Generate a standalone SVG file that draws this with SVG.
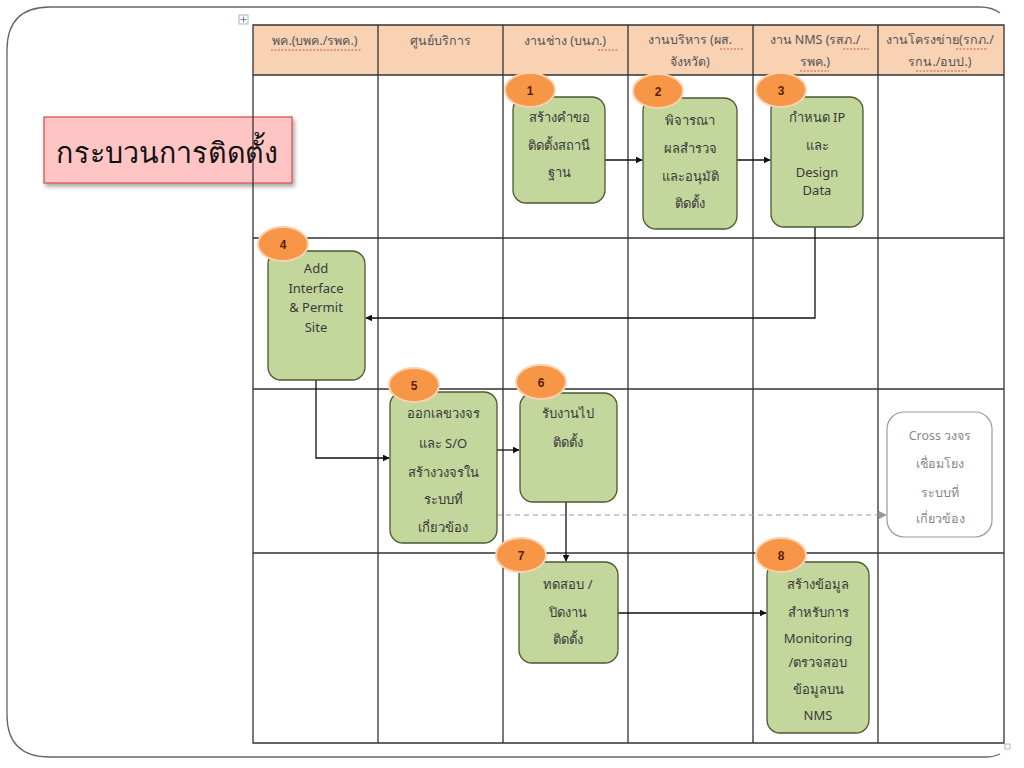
<svg xmlns="http://www.w3.org/2000/svg" width="1024" height="768" viewBox="0 0 1024 768">
<defs>
<style>
.frame{fill:none;stroke:#666;stroke-width:1.3}
.hdr{fill:#F9D2B3}
.grid{stroke:#333;stroke-width:1.3;fill:none}
.ht{font-family:"Noto Sans","Liberation Sans",sans-serif;font-size:12.5px;fill:#555;text-anchor:middle}
.sq{fill:none;stroke:#C0392B;stroke-width:0.8;stroke-dasharray:2 1.5}
.node{fill:#C3D69B;stroke:#4A5A30;stroke-width:1.3}
.nt{font-family:"Noto Sans","Liberation Sans",sans-serif;font-size:13px;fill:#3a3a3a;text-anchor:middle}
.badge{fill:#F79646;stroke:#FAD2B0;stroke-width:2}
.bt{font-family:"Liberation Sans",sans-serif;font-size:12px;font-weight:bold;fill:#5A1E0A;text-anchor:middle}
.conn{stroke:#111;stroke-width:1.3;fill:none;marker-end:url(#ah)}
.dash{stroke:#999;stroke-width:1.2;fill:none;stroke-dasharray:5 4;marker-end:url(#ahg)}
.cross{fill:#fff;stroke:#999;stroke-width:1.2}
.ct{font-family:"Noto Sans","Liberation Sans",sans-serif;font-size:12.5px;fill:#888;text-anchor:middle}
</style>
<marker id="ah" viewBox="0 0 10 10" refX="9" refY="5" markerWidth="7" markerHeight="7" orient="auto" markerUnits="userSpaceOnUse"><path d="M0,0 L10,5 L0,10 z" fill="#111"/></marker>
<marker id="ahg" viewBox="0 0 10 10" refX="9" refY="5" markerWidth="8" markerHeight="8" orient="auto" markerUnits="userSpaceOnUse"><path d="M0,0 L10,5 L0,10 z" fill="#999"/></marker>
<filter id="sh" x="-10%" y="-10%" width="125%" height="135%"><feDropShadow dx="2" dy="3" stdDeviation="2" flood-color="#000" flood-opacity="0.35"/></filter>
</defs>
<rect width="1024" height="768" fill="#fff"/>
<path class="frame" d="M1000,13 Q992,7 980,7 L50,7 Q7,7 7,50 L7,715 Q7,757 50,757 L985,757 Q994,757 1000,754"/>

<g id="title">
<rect x="44" y="117" width="248" height="66" fill="#FFC5C5" stroke="#D9534F" stroke-width="1.3" filter="url(#sh)"/>
<text x="56" y="163" font-family="Noto Sans,Liberation Sans,sans-serif" font-size="29" fill="#111" textLength="222" lengthAdjust="spacingAndGlyphs">กระบวนการติดตั้ง</text>
</g>

<g id="table">
<rect x="239" y="15" width="9" height="9" fill="#fff" stroke="#8AA" stroke-width="0.8"/>
<path d="M243.5,16.5 v6 M240.5,19.5 h6" stroke="#56A" stroke-width="0.8"/>
<rect x="253" y="25" width="751" height="50" class="hdr"/>
<path class="grid" d="M253,25 H1004 V743 H253 Z M253,75 H1004 M253,238 H1004 M253,389 H1004 M253,553 H1004 M378,25 V743 M503,25 V743 M628,25 V743 M753,25 V743 M878,25 V743"/>
<rect x="1005" y="744" width="5" height="5" fill="#fff" stroke="#999" stroke-width="0.7"/>
<text class="ht" x="315" y="45">พค.(บพค./รพค.)</text>
<text class="ht" x="440" y="45">ศูนย์บริการ</text>
<text class="ht" x="565" y="45">งานช่าง (บนภ.)</text>
<text class="ht" x="690" y="44">งานบริหาร (ผส.</text>
<text class="ht" x="690" y="66">จังหวัด)</text>
<text class="ht" x="815" y="44">งาน NMS (รสภ./</text>
<text class="ht" x="815" y="66">รพค.)</text>
<text class="ht" x="940" y="44">งานโครงข่าย(รกภ./</text>
<text class="ht" x="940" y="66">รกน./อบป.)</text>
<path class="sq" d="M271,50 H362 M598,50 H618 M720,49 H743 M843,49 H869 M800,71 H829 M956,49 H988 M916,71 H967"/>
</g>

<g id="connectors">
<path class="conn" d="M605,160 H642"/>
<path class="conn" d="M737,160 H770"/>
<path class="conn" d="M815,227 V318 H366"/>
<path class="conn" d="M316,380 V458 H389"/>
<path class="conn" d="M497,450 H519"/>
<path class="conn" d="M566,502 V561"/>
<path class="dash" d="M497,515 H886"/>
<path class="conn" d="M618,613 H766"/>
</g>

<g id="n1">
<rect class="node" x="513" y="97" width="92" height="106" rx="13"/>
<text class="nt" x="559" y="122">สร้างคำขอ</text>
<text class="nt" x="559" y="150">ติดตั้งสถานี</text>
<text class="nt" x="559" y="177">ฐาน</text>
<ellipse class="badge" cx="530" cy="90" rx="25" ry="17"/>
<text class="bt" x="530" y="95">1</text>
</g>
<g id="n2">
<rect class="node" x="643" y="98" width="94" height="131" rx="13"/>
<text class="nt" x="690" y="125">พิจารณา</text>
<text class="nt" x="690" y="153">ผลสำรวจ</text>
<text class="nt" x="690" y="181">และอนุมัติ</text>
<text class="nt" x="690" y="208">ติดตั้ง</text>
<ellipse class="badge" cx="658" cy="91" rx="25" ry="17"/>
<text class="bt" x="658" y="96">2</text>
</g>
<g id="n3">
<rect class="node" x="771" y="97" width="92" height="130" rx="13"/>
<text class="nt" x="817" y="122">กำหนด IP</text>
<text class="nt" x="817" y="150">และ</text>
<text class="nt" x="817" y="177">Design</text>
<text class="nt" x="817" y="195">Data</text>
<ellipse class="badge" cx="781" cy="90" rx="25" ry="17"/>
<text class="bt" x="781" y="95">3</text>
</g>
<g id="n4">
<rect class="node" x="268" y="251" width="97" height="129" rx="13"/>
<text class="nt" x="316" y="273">Add</text>
<text class="nt" x="316" y="293">Interface</text>
<text class="nt" x="316" y="312">&amp; Permit</text>
<text class="nt" x="316" y="332">Site</text>
<ellipse class="badge" cx="283" cy="244" rx="25" ry="17"/>
<text class="bt" x="283" y="249">4</text>
</g>
<g id="n5">
<rect class="node" x="390" y="392" width="107" height="151" rx="13"/>
<text class="nt" x="443" y="418">ออกเลขวงจร</text>
<text class="nt" x="443" y="448">และ S/O</text>
<text class="nt" x="443" y="477">สร้างวงจรใน</text>
<text class="nt" x="443" y="504">ระบบที่</text>
<text class="nt" x="443" y="532">เกี่ยวข้อง</text>
<ellipse class="badge" cx="414" cy="385" rx="25" ry="17"/>
<text class="bt" x="414" y="390">5</text>
</g>
<g id="n6">
<rect class="node" x="520" y="393" width="97" height="109" rx="13"/>
<text class="nt" x="568" y="418">รับงานไป</text>
<text class="nt" x="568" y="447">ติดตั้ง</text>
<ellipse class="badge" cx="541" cy="382" rx="25" ry="17"/>
<text class="bt" x="541" y="387">6</text>
</g>
<g id="cross">
<rect class="cross" x="887" y="412" width="105" height="125" rx="17"/>
<text class="ct" x="940" y="440">Cross วงจร</text>
<text class="ct" x="940" y="468">เชื่อมโยง</text>
<text class="ct" x="940" y="497">ระบบที่</text>
<text class="ct" x="940" y="523">เกี่ยวข้อง</text>
</g>
<g id="n7">
<rect class="node" x="519" y="562" width="99" height="101" rx="13"/>
<text class="nt" x="568" y="589">ทดสอบ /</text>
<text class="nt" x="568" y="617">ปิดงาน</text>
<text class="nt" x="568" y="644">ติดตั้ง</text>
<ellipse class="badge" cx="521" cy="555" rx="25" ry="17"/>
<text class="bt" x="521" y="560">7</text>
</g>
<g id="n8">
<rect class="node" x="767" y="562" width="102" height="171" rx="13"/>
<text class="nt" x="818" y="589">สร้างข้อมูล</text>
<text class="nt" x="818" y="617">สำหรับการ</text>
<text class="nt" x="818" y="643">Monitoring</text>
<text class="nt" x="818" y="667">/ตรวจสอบ</text>
<text class="nt" x="818" y="694">ข้อมูลบน</text>
<text class="nt" x="818" y="720">NMS</text>
<ellipse class="badge" cx="781" cy="555" rx="25" ry="17"/>
<text class="bt" x="781" y="560">8</text>
</g>
</svg>
